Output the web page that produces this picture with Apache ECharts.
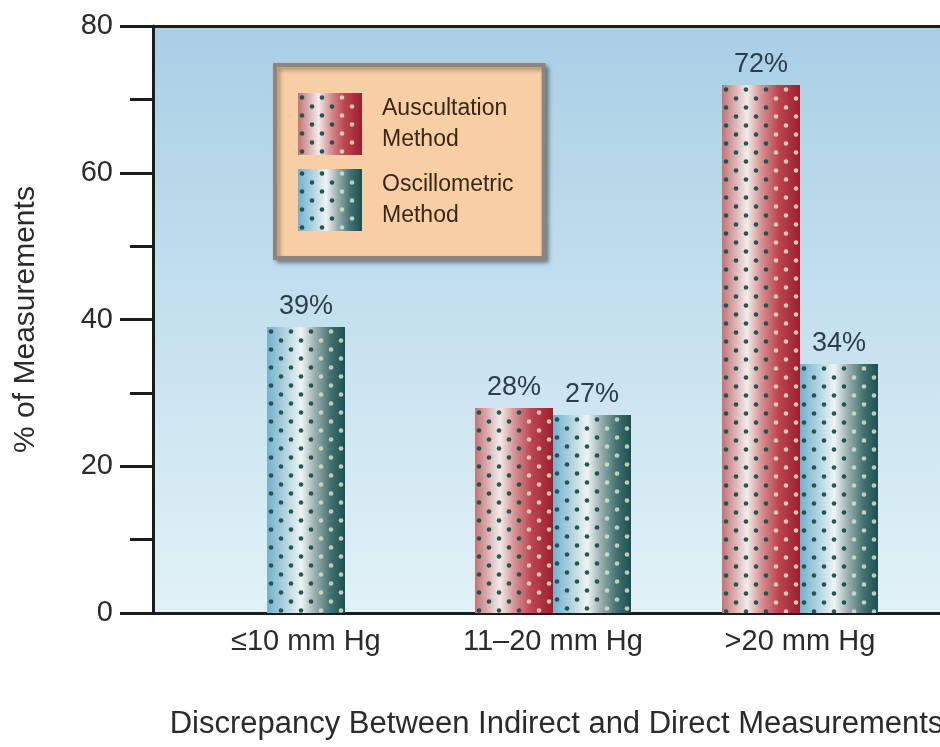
<!DOCTYPE html>
<html>
<head>
<meta charset="utf-8">
<script src="https://cdn.jsdelivr.net/npm/echarts@6/dist/echarts.min.js"></script>
<style>
html,body{margin:0;padding:0;background:#fff;}
#chart{width:940px;height:747px;}
</style>
</head>
<body>
<div id="chart"></div>
<script>
// ---- data ----
const categories = ['\u226410 mm Hg', '11\u201320 mm Hg', '>20 mm Hg'];
const seriesNames = ['Auscultation Method', 'Oscillometric Method'];
const auscultation = [null, 28, 72];
const oscillometric = [39, 27, 34];
const yTicks = [0, 20, 40, 60, 80];

// ---- styling ----
const FONT = '"Liberation Sans", Arial, Helvetica, sans-serif';
const AUSC_STOPS = [[0, '#c27577'], [0.14, '#d8a6a7'], [0.32, '#f1ebea'], [0.5, '#d69496'], [0.72, '#bd4652'], [1, '#9c1e2c']];
const OSC_STOPS = [[0, '#74b1cd'], [0.24, '#b2d4e1'], [0.44, '#eef4f4'], [0.62, '#98adae'], [0.82, '#41706f'], [1, '#1b5052']];
const DOT_DARK = 'rgba(30,78,74,0.95)';
const DOT_LIGHT = 'rgba(215,225,200,0.85)';
const BAR_RATIO = 0.316;

const tileCache = {};
function makeTile(w, stops) {
  const key = w + '|' + stops[0][1];
  if (tileCache[key]) return tileCache[key];
  const h = 18;
  const c = document.createElement('canvas');
  c.width = w; c.height = h;
  const ctx = c.getContext('2d');
  const g = ctx.createLinearGradient(0, 0, w, 0);
  stops.forEach(s => g.addColorStop(s[0], s[1]));
  ctx.fillStyle = g;
  ctx.fillRect(0, 0, w, h);
  for (let r = 0; r < 2; r++) {
    const y = 4.5 + r * 9;
    for (let x = (r ? 14 : 4); x < w - 1; x += 20) {
      ctx.fillStyle = (x / w) < 0.62 ? DOT_DARK : DOT_LIGHT;
      ctx.beginPath();
      ctx.arc(x, y, 2.3, 0, Math.PI * 2);
      ctx.fill();
    }
  }
  tileCache[key] = c;
  return c;
}

function buildData(values, idx, other) {
  const out = [];
  values.forEach((v, i) => {
    if (v != null) out.push([i, v, idx, other[i] == null ? 0 : 1]);
  });
  return out;
}

function renderItem(params, api) {
  const cat = api.value(0), val = api.value(1), s = api.value(2), pair = api.value(3);
  const base = api.coord([cat, 0]);
  const topPt = api.coord([cat, val]);
  const unit = api.size([1, 0])[0];
  const w = Math.round(unit * BAR_RATIO);
  const left = pair ? Math.round(base[0] - w + s * w) : Math.round(base[0] - w / 2);
  const top = Math.round(topPt[1]);
  const h = base[1] - top;
  const tile = makeTile(w, s === 0 ? AUSC_STOPS : OSC_STOPS);
  return {
    type: 'group',
    children: [
      { type: 'rect', x: left, y: top, shape: { x: 0, y: 0, width: w, height: h },
        style: { fill: { image: tile, repeat: 'repeat' } } },
      { type: 'text', x: left + w / 2, y: top - 7,
        style: { text: val + '%', fill: '#2c3d4b', fontSize: 27, fontFamily: FONT,
                 align: 'center', verticalAlign: 'bottom' } }
    ]
  };
}

const chart = echarts.init(document.getElementById('chart'), null, { renderer: 'canvas' });
const xMin = -0.619, xMax = 2.567;

const option = {
  backgroundColor: '#ffffff',
  animation: false,
  grid: {
    left: 153, right: 0, top: 26, bottom: 134,
    show: true, borderWidth: 0, outerBoundsMode: 'none',
    backgroundColor: new echarts.graphic.LinearGradient(0, 0, 0, 1, [
      { offset: 0, color: '#a9cfe5' }, { offset: 1, color: '#e1f2f7' }
    ])
  },
  legend: {
    left: 275, top: 65, orient: 'vertical',
    padding: [28, 30, 27, 23],
    itemWidth: 64, itemHeight: 62, itemGap: 14,
    backgroundColor: '#f8cfa4', borderColor: '#8e8580', borderWidth: 4,
    shadowColor: 'rgba(0,0,0,0.35)', shadowBlur: 4, shadowOffsetX: 3, shadowOffsetY: 3,
    icon: 'rect', selectedMode: false,
    data: [
      { name: seriesNames[0], itemStyle: { color: { image: makeTile(64, AUSC_STOPS), repeat: 'repeat' } } },
      { name: seriesNames[1], itemStyle: { color: { image: makeTile(64, OSC_STOPS), repeat: 'repeat' } } }
    ],
    formatter: n => n.replace(' ', '\n'),
    textStyle: { fontSize: 23, lineHeight: 31, color: '#3a2718', fontFamily: FONT, padding: [0, 0, 0, 15] }
  },
  xAxis: [{
    type: 'value', min: xMin, max: xMax, position: 'bottom',
    axisLine: { show: true, onZero: false, lineStyle: { color: '#1c1c1c', width: 3 } },
    axisTick: { show: false },
    splitLine: { show: false },
    axisLabel: {
      customValues: [0, 1, 2], margin: 14,
      formatter: v => categories[Math.round(v)] || '',
      fontSize: 29, color: '#2b2b2b', fontFamily: FONT
    },
    name: 'Discrepancy Between Indirect and Direct Measurements',
    nameLocation: 'middle', nameGap: 96,
    nameTextStyle: { fontSize: 31, color: '#2b2b2b', fontFamily: FONT, padding: [0, 0, 0, 20] }
  }, {
    type: 'value', min: xMin, max: xMax, position: 'top',
    axisLine: { show: true, onZero: false, lineStyle: { color: '#1c1c1c', width: 3 } },
    axisTick: { show: false }, axisLabel: { show: false }, splitLine: { show: false }
  }],
  yAxis: {
    type: 'value', min: yTicks[0], max: yTicks[yTicks.length - 1], interval: 20, position: 'left',
    axisLine: { show: true, onZero: false, lineStyle: { color: '#1c1c1c', width: 3 } },
    axisTick: { show: true, length: 33, lineStyle: { color: '#1c1c1c', width: 3 } },
    minorTick: { show: true, splitNumber: 2, length: 23, lineStyle: { color: '#1c1c1c', width: 3 } },
    splitLine: { show: false },
    axisLabel: { margin: 40, fontSize: 29, color: '#2b2b2b', fontFamily: FONT,
                 formatter: v => yTicks.indexOf(v) >= 0 ? String(v) : '' },
    name: '% of Measurements', nameLocation: 'middle', nameGap: 112, nameRotate: 90,
    nameTextStyle: { fontSize: 30, color: '#2b2b2b', fontFamily: FONT }
  },
  series: [
    { name: seriesNames[0], type: 'custom', renderItem: renderItem, xAxisIndex: 0,
      encode: { x: 0, y: 1 }, data: buildData(auscultation, 0, oscillometric),
      itemStyle: { color: '#b84450' } },
    { name: seriesNames[1], type: 'custom', renderItem: renderItem, xAxisIndex: 0,
      encode: { x: 0, y: 1 }, data: buildData(oscillometric, 1, auscultation),
      itemStyle: { color: '#3f8a9a' } }
  ]
};
chart.setOption(option);
</script>
</body>
</html>
